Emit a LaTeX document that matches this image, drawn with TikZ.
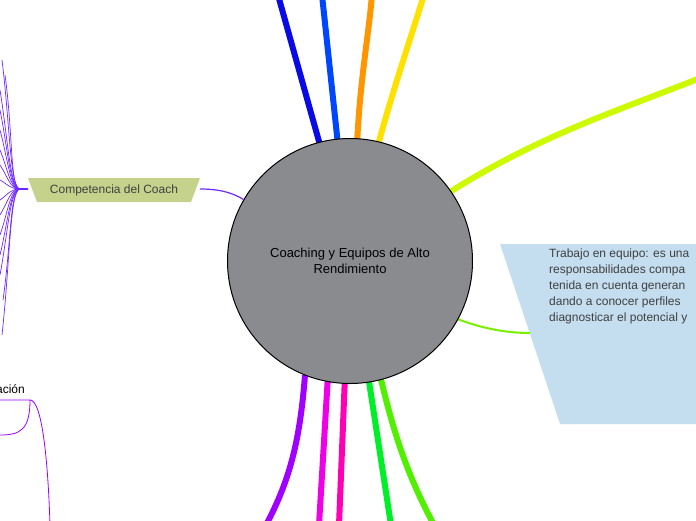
\documentclass[tikz,border=0pt]{standalone}
\usepackage{fontspec}
\setmainfont{Liberation Sans}
\definecolor{cblue}{RGB}{10,10,230}
\definecolor{cblue2}{RGB}{0,70,255}
\definecolor{corange}{RGB}{255,150,0}
\definecolor{cyellow}{RGB}{255,225,0}
\definecolor{cyg}{RGB}{205,250,0}
\definecolor{cgreen}{RGB}{120,240,0}
\definecolor{cpurple}{RGB}{160,0,255}
\definecolor{cmag}{RGB}{240,0,230}
\definecolor{cmag2}{RGB}{255,0,180}
\definecolor{cgreen2}{RGB}{0,240,40}
\definecolor{cgreen3}{RGB}{80,240,0}
\definecolor{cfan}{RGB}{110,40,255}
\definecolor{cpale}{RGB}{196,222,240}
\definecolor{colive}{RGB}{196,210,140}
\definecolor{cgray}{RGB}{138,139,143}
\begin{document}
\begin{tikzpicture}[x=1pt,y=-1pt,
  br/.style={line width=6pt},
  fan/.style={draw=cfan,line width=0.7pt},
  txt/.style={font=\fontsize{12}{16}\selectfont,text=black!75}]
\useasboundingbox (0,0) rectangle (696,520);
\clip (0,0) rectangle (696,520);
\coordinate (t1) at (278,-5); \coordinate (t2) at (322,-5); \coordinate (t3) at (372,-5);
\coordinate (t4) at (424,-5); \coordinate (t5) at (700,78);
\coordinate (b1) at (266,525); \coordinate (b2) at (319,525); \coordinate (b3) at (339,525);
\coordinate (b4) at (391,525); \coordinate (b5) at (434,525);
\draw[br,cblue] (320,145) -- (t1);
\draw[br,cblue2] (338,145) -- (t2);
\draw[br,corange] (357,145) .. controls (360,80) and (368,40) .. (t3);
\draw[br,cyellow] (378,145) .. controls (393,90) and (410,40) .. (t4);
\draw[br,cyg] (450,192) .. controls (540,135) and (620,110) .. (t5);
\draw[br,cpurple] (305,375) .. controls (300,440) and (290,480) .. (b1);
\draw[br,cmag] (328,375) -- (b2);
\draw[br,cmag2] (345,375) -- (b3);
\draw[br,cgreen2] (368,375) -- (b4);
\draw[br,cgreen3] (380,375) .. controls (395,440) and (410,480) .. (b5);
\fill[cpale] (500,244) -- (700,244) -- (700,424) -- (560,424) -- cycle;
\node (tr) [txt,align=left,inner sep=0pt,anchor=north west] at (549,249)
 {Trabajo en equipo: es una\\responsabilidades compa\\tenida en cuenta generan\\dando a conocer perfiles\\diagnosticar el potencial y};
\coordinate (tra) at (530,333);
\draw[cgreen,line width=2pt] (455,318) .. controls (480,328) and (505,333) .. (tra);
\node (c) [circle,draw=black,line width=1pt,fill=cgray,minimum size=245pt,inner sep=0pt,align=center,font=\fontsize{13}{16}\selectfont] at (350,261) {Coaching y Equipos de Alto\\Rendimiento};
\fill[colive] (28,178) -- (200,178) -- (191,202) -- (37,202) -- cycle;
\node (comp) [txt] at (114,190) {Competencia del Coach};
\draw[cfan,line width=1.2pt] (200,189) .. controls (215,189) and (230,191) .. (c.150);
\coordinate (hub) at (20,189);
\draw[fan,line width=1.5pt] (hub) -- (28,189);
\foreach \y/\x in {60/2,75/5,90/0,110/0,130/0,150/0,165/0,180/0,200/0,215/0,235/0,255/0,275/0,300/3,335/2}
  \draw[fan] (hub) .. controls (10,189) and (\x+8,{(\y+189)/2}) .. (\x,\y);
\node (ac) [font=\fontsize{12}{14}\selectfont,anchor=east,inner sep=0pt] at (25,389) {ación};
\coordinate (a1) at (30,400);
\draw[cpurple,line width=0.8pt] (0,400) -- (a1) .. controls (30,430) and (20,435) .. (0,435);
\draw[cpurple,line width=0.8pt] (a1) .. controls (42,400) and (48,460) .. (50,525);
\end{tikzpicture}
\end{document}
